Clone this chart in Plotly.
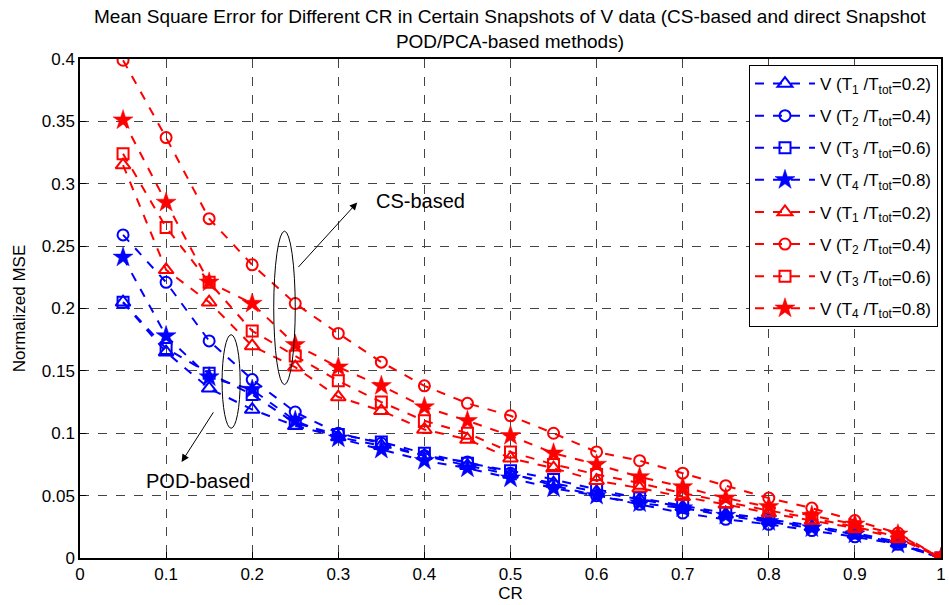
import plotly.graph_objects as go

cr = [0.05, 0.1, 0.15, 0.2, 0.25, 0.3, 0.35, 0.4, 0.45, 0.5,
      0.55, 0.6, 0.65, 0.7, 0.75, 0.8, 0.85, 0.9, 0.95, 1.0]

# POD/PCA-based (blue)
pod_t1 = [0.205, 0.165, 0.136, 0.119, 0.106, 0.097, 0.090, 0.082, 0.074, 0.067,
          0.060, 0.053, 0.047, 0.041, 0.035, 0.030, 0.025, 0.019, 0.012, 0.0]
pod_t2 = [0.259, 0.221, 0.174, 0.143, 0.117, 0.100, 0.092, 0.082, 0.077, 0.068,
          0.058, 0.050, 0.043, 0.036, 0.031, 0.027, 0.022, 0.017, 0.011, 0.0]
pod_t3 = [0.205, 0.168, 0.148, 0.131, 0.108, 0.099, 0.093, 0.084, 0.076, 0.070,
          0.063, 0.055, 0.048, 0.042, 0.036, 0.031, 0.026, 0.020, 0.013, 0.0]
pod_t4 = [0.241, 0.178, 0.145, 0.135, 0.110, 0.096, 0.087, 0.078, 0.072, 0.064,
          0.056, 0.050, 0.044, 0.040, 0.034, 0.029, 0.024, 0.019, 0.011, 0.0]

# CS-based (red)
cs_t1 = [0.315, 0.231, 0.205, 0.170, 0.153, 0.129, 0.118, 0.103, 0.095, 0.080,
         0.072, 0.062, 0.056, 0.049, 0.043, 0.036, 0.030, 0.024, 0.016, 0.0]
cs_t2 = [0.399, 0.337, 0.272, 0.235, 0.204, 0.180, 0.157, 0.138, 0.124, 0.114,
         0.100, 0.085, 0.078, 0.068, 0.058, 0.048, 0.040, 0.030, 0.020, 0.0]
cs_t3 = [0.324, 0.265, 0.221, 0.182, 0.162, 0.142, 0.125, 0.110, 0.100, 0.085,
         0.075, 0.067, 0.060, 0.052, 0.045, 0.038, 0.032, 0.025, 0.017, 0.0]
cs_t4 = [0.351, 0.285, 0.221, 0.204, 0.171, 0.153, 0.138, 0.121, 0.110, 0.098,
         0.084, 0.075, 0.065, 0.057, 0.048, 0.041, 0.034, 0.027, 0.019, 0.0]

labels = ["V (T<sub>1</sub> /T<sub>tot</sub>=0.2)",
          "V (T<sub>2</sub> /T<sub>tot</sub>=0.4)",
          "V (T<sub>3</sub> /T<sub>tot</sub>=0.6)",
          "V (T<sub>4</sub> /T<sub>tot</sub>=0.8)"]
symbols = ["triangle-up-open", "circle-open", "square-open", "star"]
marker_sizes = [13, 11, 11, 15]

x_ticks = [0, 0.1, 0.2, 0.3, 0.4, 0.5, 0.6, 0.7, 0.8, 0.9, 1]
x_tick_text = ["0", "0.1", "0.2", "0.3", "0.4", "0.5", "0.6", "0.7", "0.8", "0.9", "1"]
y_ticks = [0, 0.05, 0.1, 0.15, 0.2, 0.25, 0.3, 0.35, 0.4]
y_tick_text = ["0", "0.05", "0.1", "0.15", "0.2", "0.25", "0.3", "0.35", "0.4"]

title_text = ("Mean Square Error for Different CR in Certain Snapshots of V data (CS-based and direct Snapshot"
              "<br>POD/PCA-based methods)")

fig = go.Figure()
k = 0
for series, color in [([pod_t1, pod_t2, pod_t3, pod_t4], "#0000ff"),
                      ([cs_t1, cs_t2, cs_t3, cs_t4], "#ff0000")]:
    for vals, lab, sym, ms in zip(series, labels, symbols, marker_sizes):
        k += 1
        fig.add_trace(go.Scatter(
            x=cr, y=vals, name=lab, mode="lines+markers", legendgroup=f"g{k}",
            line=dict(color=color, width=2, dash="dash"),
            marker=dict(symbol=sym, size=ms, color=color,
                        line=dict(color=color, width=2 if sym != "star" else 0.5)),
        ))

font_family = "Liberation Sans, Arial, sans-serif"

# ellipses and annotations
fig.add_shape(type="circle", xref="x", yref="y", x0=0.225, x1=0.250, y0=0.139, y1=0.262,
              line=dict(color="black", width=1))
fig.add_shape(type="circle", xref="x", yref="y", x0=0.165, x1=0.186, y0=0.104, y1=0.179,
              line=dict(color="black", width=1))
fig.add_annotation(x=0.322, y=0.285, ax=0.252, ay=0.232, xref="x", yref="y", axref="x", ayref="y",
                   text="", showarrow=True, arrowhead=2, arrowsize=1.5, arrowwidth=1, arrowcolor="black")
fig.add_annotation(x=0.118, y=0.077, ax=0.156, ay=0.118, xref="x", yref="y", axref="x", ayref="y",
                   text="", showarrow=True, arrowhead=2, arrowsize=1.5, arrowwidth=1, arrowcolor="black")
fig.add_annotation(x=0.395, y=0.286, xref="x", yref="y", text="CS-based", showarrow=False,
                   font=dict(size=20, color="black", family=font_family))
fig.add_annotation(x=0.138, y=0.062, xref="x", yref="y", text="POD-based", showarrow=False,
                   font=dict(size=20, color="black", family=font_family))

# title as annotation above the plot
fig.add_annotation(x=0.5, y=1, xref="paper", yref="paper", xanchor="center", yanchor="bottom",
                   yshift=5, text=title_text, showarrow=False,
                   font=dict(size=19, color="black", family=font_family))

axis_common = dict(showline=True, linecolor="black", linewidth=1.5, mirror=True,
                   ticks="inside", ticklen=6, tickcolor="black",
                   showgrid=True, gridcolor="#444444", griddash="dash", gridwidth=1,
                   zeroline=False, tickfont=dict(size=17, color="black", family=font_family))

fig.update_layout(
    width=949, height=605,
    margin=dict(l=80, r=3, t=59, b=47),
    paper_bgcolor="white", plot_bgcolor="white",
    font=dict(family=font_family, color="black"),
    xaxis=dict(range=[0, 1], tickvals=x_ticks, ticktext=x_tick_text,
               title=dict(text="CR", font=dict(size=17), standoff=4), **axis_common),
    yaxis=dict(range=[0, 0.4], tickvals=y_ticks, ticktext=y_tick_text,
               title=dict(text="Normalized MSE", font=dict(size=17), standoff=12), **axis_common),
    legend=dict(x=0.777, y=0.988, xanchor="left", yanchor="top",
                bgcolor="white", bordercolor="black", borderwidth=1,
                font=dict(size=17, color="black", family=font_family),
                itemwidth=60, tracegroupgap=7),
    showlegend=True,
)

fig.write_html("out.html")
